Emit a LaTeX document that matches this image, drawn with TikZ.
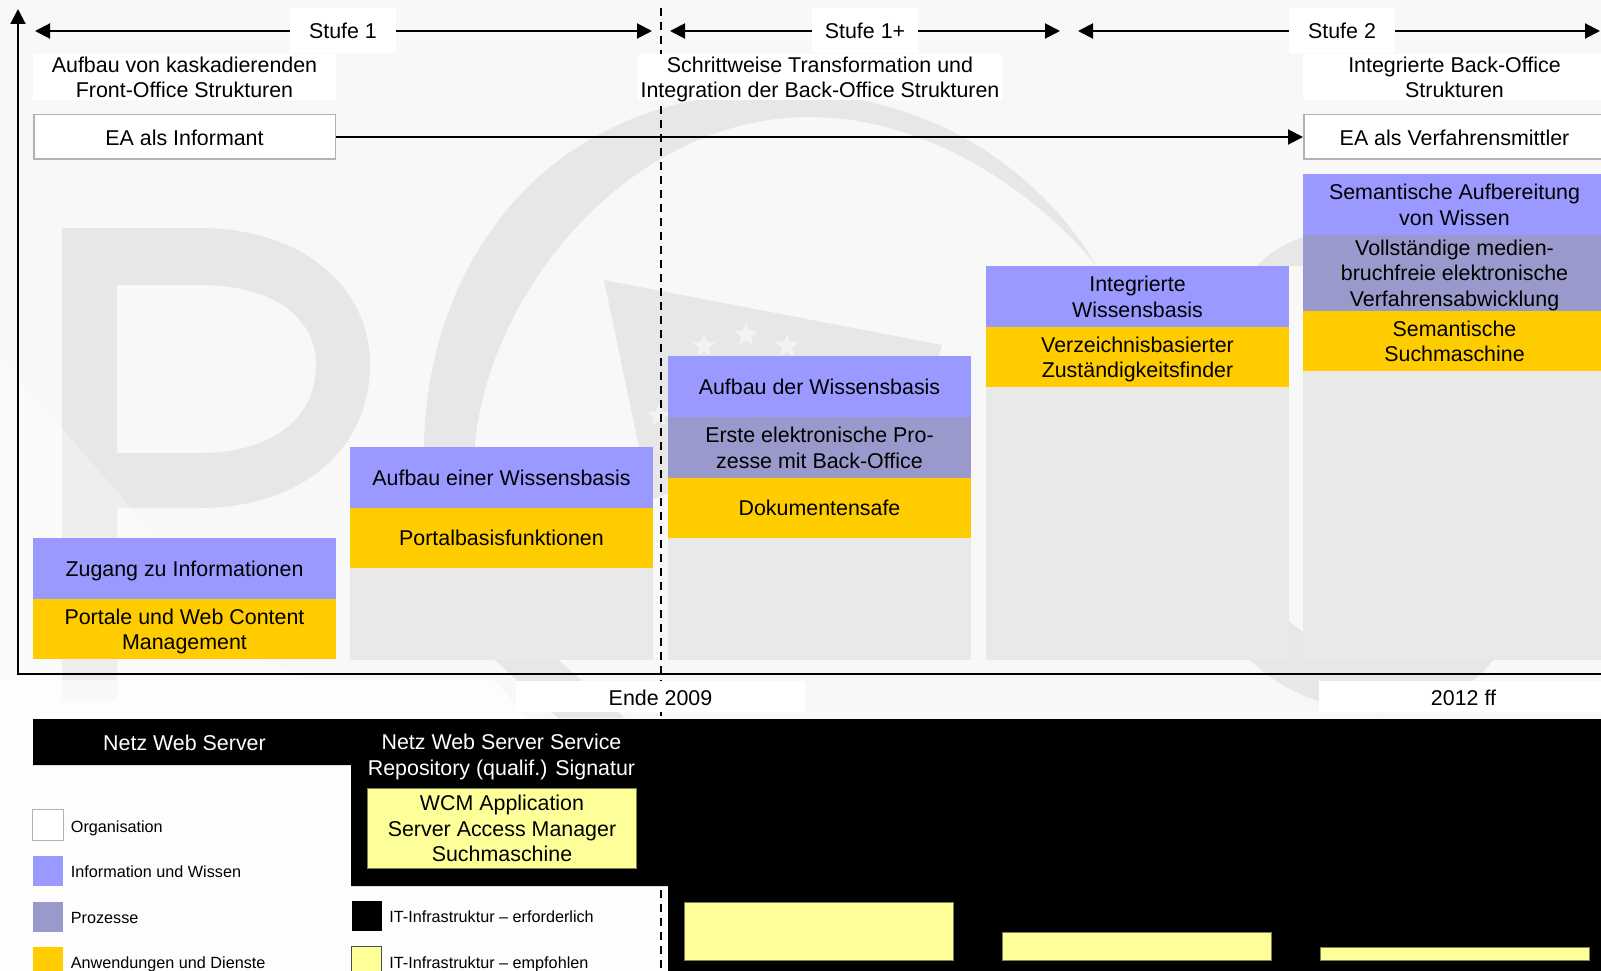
\documentclass[tikz,border=0pt]{standalone}
\usepackage{fontspec}
\setmainfont{Liberation Sans}
\usetikzlibrary{arrows.meta,shapes.geometric}
\definecolor{infoblue}{HTML}{9999FF}
\definecolor{prozesspurple}{HTML}{9999CC}
\definecolor{appyellow}{HTML}{FFCC00}
\definecolor{itsoft}{HTML}{FFFF99}
\definecolor{columngray}{HTML}{E9E9E9}
\definecolor{pagegray}{HTML}{F8F8F8}
\definecolor{markgray}{HTML}{E7E7E7}
\definecolor{stargray}{HTML}{F3F3F3}
\tikzstyle{block}=[rectangle,minimum width=303pt,inner sep=0pt,align=center,text depth=0pt,font=\fontsize{21.4}{25.5}\selectfont]
\tikzstyle{headbox}=[block,fill=white,minimum height=46pt]
\tikzstyle{eabox}=[headbox,draw=black!30,line width=1.5pt,minimum width=301.5pt,minimum height=44.5pt,text height=17pt]
\tikzstyle{stufelabel}=[block,fill=white,minimum width=106pt,minimum height=45pt,text height=17pt]
\tikzstyle{datelabel}=[block,fill=white,minimum width=289pt,minimum height=31pt,text height=18pt]
\tikzstyle{softbox}=[block,fill=itsoft,draw=black!50!itsoft,line width=0.5pt,minimum width=269pt]
\tikzstyle{netztext}=[block,text=white]
\tikzstyle{legendbox}=[rectangle,inner sep=0pt,minimum size=30pt]
\tikzstyle{legendtext}=[anchor=west,inner sep=0pt,text height=14pt,text depth=0pt,font=\fontsize{16.2}{19}\selectfont]
\tikzstyle{edge}=[draw,line width=2pt,-{Triangle[length=15pt,width=15pt]}]
\tikzstyle{stufeedge}=[edge,{Triangle[length=15pt,width=15pt]}-{Triangle[length=15pt,width=15pt]}]
\tikzstyle{wmark}=[fill=markgray]

\begin{document}
\begin{tikzpicture}[x=1pt,y=-1pt]
    \useasboundingbox (0,0) rectangle (1601,971);
    \clip (0,0) rectangle (1601,971);
    \fill[pagegray] (0,0) rectangle (1601,971);

    % Watermark behind the chart
    \fill[wmark,even odd rule] (62,228) -- (200,228) .. controls (300,228) and (370,285) .. (370,365) .. controls (370,450) and (300,508) .. (200,508) -- (117,508) -- (117,700) -- (62,700) -- cycle
        (117,285) -- (200,285) .. controls (270,285) and (316,315) .. (316,365) .. controls (316,420) and (270,453) .. (200,453) -- (117,453) -- cycle;
    \fill[wmark] (558,718) -- (495,660) .. controls (455,610) and (424,540) .. (424,450) .. controls (425,270) and (540,92) .. (780,92) .. controls (930,92) and (1040,170) .. (1098,268)
        .. controls (1040,195) and (930,117) .. (810,117) .. controls (630,117) and (490,290) .. (475,443) .. controls (475,530) and (515,610) .. (558,660) -- (625,718) -- cycle;
    \fill[wmark] (604,280) -- (942,345) -- (925,400) -- (650,500) -- cycle;
    \fill[wmark] (1257,266) .. controls (1270,252) and (1285,244) .. (1303,237) -- (1303,266) -- cycle;
    \fill[wmark] (1250,590) -- (1303,632) -- (1493,640) -- (1493,660) .. controls (1470,690) and (1430,712) .. (1380,712) .. controls (1330,712) and (1280,690) .. (1250,660) -- cycle;
    \foreach \pos/ \name in {{(704,346)/A},{(746,335)/B},{(787,346)/C},{(659,416)/D}}
        \node[star,star points=5,star point ratio=2.2,fill=stargray,minimum size=24pt,inner sep=0pt] (star\name) at \pos {};
    \fill[white,opacity=0.3] (0,357) -- (263,660) -- (312,680) -- (0,680) -- cycle;
    \fill[white,opacity=0.75] (0,680) -- (495,680) -- (670,890) -- (670,971) -- (0,971) -- cycle;

    % Axes and end of stage 1
    \coordinate (origin) at (18,674);
    \coordinate (ytop) at (18,9);
    \coordinate (xend) at (1610,674);
    \draw[edge] (xend) -- (origin) -- (ytop);
    \coordinate (dashtop) at (661,8);
    \coordinate (dashbottom) at (661,971);
    \draw[line width=1.5pt,dash pattern=on 8pt off 6pt] (dashtop) -- (dashbottom);

    % Stages
    \foreach \name/ \from/ \to in {A/35/652,B/670/1060,C/1078/1600}{
        \coordinate (left\name) at (\from,31);
        \coordinate (right\name) at (\to,31);
        \path[stufeedge] (left\name) -- (right\name);
    }
    \foreach \pos/ \name/ \txt in {{(343,30.5)/stufeA/Stufe 1},{(865,30.5)/stufeB/Stufe 1+},{(1342,30.5)/stufeC/Stufe 2}}
        \node[stufelabel] (\name) at \pos {\txt};

    \node[headbox] (headA) at (184.5,77) {Aufbau von kaskadierenden\\Front-Office Strukturen};
    \node[headbox,minimum width=364pt] (headB) at (820,77) {Schrittweise Transformation und\\Integration der Back-Office Strukturen};
    \node[headbox] (headC) at (1454.5,77) {Integrierte Back-Office\\Strukturen};

    \node[eabox] (informant) at (184.5,137) {EA als Informant};
    \node[eabox] (mittler) at (1454.5,137) {EA als Verfahrensmittler};
    \path[edge] (informant) -- (mittler);

    % Columns
    \foreach \pos/ \name/ \high in {{(501.5,614)/grayB/92},{(819.5,599)/grayC/122},{(1137.5,523.5)/grayD/273},{(1454.5,515.5)/grayE/289}}
        \node[block,fill=columngray,minimum height=\high pt] (\name) at \pos {};
    \foreach \pos/ \name/ \txt in {{(184.5,568.5)/infoA/Zugang zu Informationen},{(501.5,477.5)/infoB/Aufbau einer Wissensbasis},{(819.5,386.5)/infoC/Aufbau der Wissensbasis},{(1137.5,296.5)/infoD/Integrierte\\Wissensbasis},{(1454.5,204.5)/infoE/Semantische Aufbereitung\\von Wissen}}
        \node[block,fill=infoblue,minimum height=61pt] (\name) at \pos {\txt};
    \node[block,fill=prozesspurple,minimum height=61pt] (prozessC) at (819.5,447.5) {Erste elektronische Pro-\\zesse mit Back-Office};
    \node[block,fill=prozesspurple,minimum height=76pt] (prozessE) at (1454.5,273) {Vollständige medien-\\bruchfreie elektronische\\Verfahrensabwicklung};
    \foreach \pos/ \name/ \txt in {{(184.5,629)/appA/Portale und Web Content\\Management},{(501.5,538)/appB/Portalbasisfunktionen},{(819.5,508)/appC/Dokumentensafe},{(1137.5,357)/appD/Verzeichnisbasierter\\Zuständigkeitsfinder},{(1454.5,341)/appE/Semantische\\Suchmaschine}}
        \node[block,fill=appyellow,minimum height=60pt] (\name) at \pos {\txt};

    \node[datelabel] (ende) at (660.5,696.5) {Ende 2009};
    \node[datelabel] (ff) at (1463.5,696.5) {2012 ff};

    % Infrastructure
    \fill[black] (33,719) -- (1601,719) -- (1601,971) -- (668,971) -- (668,886) -- (351,886) -- (351,765) -- (33,765) -- cycle;
    \node[netztext] (netzA) at (184.5,743) {Netz Web Server};
    \node[netztext] (netzB) at (501.5,754.5) {Netz Web Server Service\\Repository (qualif.) Signatur};
    \node[softbox,minimum height=80pt] (softA) at (502,828.5) {WCM Application\\Server Access Manager\\Suchmaschine};
    \foreach \pos/ \name/ \high in {{(819,931)/softB/58},{(1137,946)/softC/28},{(1454.5,953.5)/softD/13}}
        \node[softbox,minimum height=\high pt] (\name) at \pos {};

    % Legend
    \foreach \pos/ \name/ \col/ \txt in {{(48,825)/org/white/Organisation},{(48,870.5)/info/infoblue/Information und Wissen},{(48,916.5)/proz/prozesspurple/Prozesse},{(48,961.5)/app/appyellow/Anwendungen und Dienste},{(366.5,915.5)/erf/black/IT-Infrastruktur – erforderlich},{(366.5,961.5)/emp/itsoft/IT-Infrastruktur – empfohlen}}{
        \node[legendbox,fill=\col] (box\name) at \pos {};
        \node[legendtext,xshift=22.7pt] (txt\name) at \pos {\txt};
    }
    \draw[black!30,line width=1.2pt] (boxorg.south west) rectangle (boxorg.north east);
    \draw[black!70,line width=1.2pt] (boxemp.south west) rectangle (boxemp.north east);
\end{tikzpicture}
\end{document}
